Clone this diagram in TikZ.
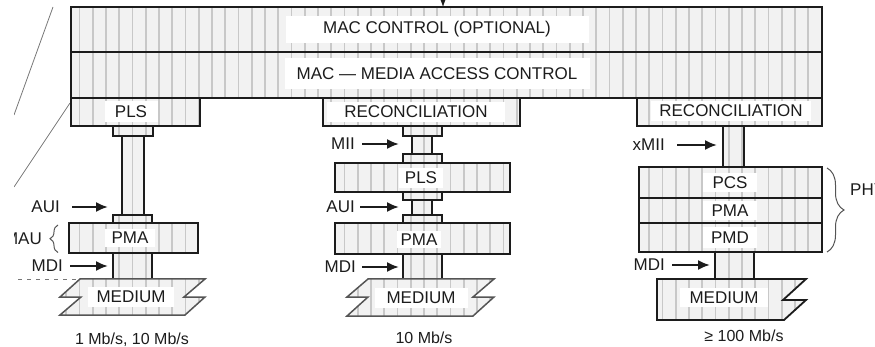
\documentclass[tikz,border=0pt]{standalone}
\usepackage{fontspec}
\setmainfont{Liberation Sans}
\usetikzlibrary{arrows.meta,patterns.meta,decorations.pathreplacing,fit}
\definecolor{boxfill}{HTML}{F2F2F2}
\definecolor{hatchc}{HTML}{C8C8C8}
\definecolor{ink}{HTML}{1C1C1C}
\definecolor{soft}{HTML}{555555}
\newcommand\labfont{\fontsize{17}{19}\selectfont}
\newcommand\speedfont{\fontsize{16}{18}\selectfont}
\begin{document}
\begin{tikzpicture}[x=1pt,y=-1pt,
  box/.style={draw=ink, line width=1.8pt, inner sep=0pt, outer sep=0pt,
    preaction={fill=boxfill},
    preaction={pattern={Lines[angle=90,distance=13.25pt,line width=1.6pt]}, pattern color=hatchc}},
  medbox/.style={draw=soft, line width=1.5pt,
    preaction={fill=boxfill},
    preaction={pattern={Lines[angle=90,distance=13.25pt,line width=1.6pt]}, pattern color=hatchc}},
  lab/.style={fill=white, inner sep=0pt, text=ink, font=\labfont},
  txt/.style={inner sep=0pt, text=ink, font=\labfont},
  speed/.style={inner sep=0pt, text=ink, font=\speedfont},
  arr/.style={draw=ink, line width=2pt, -{Latex[length=12pt,width=10pt]}},
  greyline/.style={draw=soft!80, line width=0.8pt},
  dashline/.style={draw=soft!80, line width=0.8pt, dash pattern=on 4pt off 5pt},
  bracestyle/.style={draw=soft, line width=1pt, decorate}]
\useasboundingbox (0,0) rectangle (875,347);
\clip (14,0) rectangle (875,347);

% decorative lines on the left
\coordinate (d1a) at (53,7);   \coordinate (d1b) at (14,115);
\coordinate (d2a) at (70,103); \coordinate (d2b) at (14,187);
\draw[greyline] (d1a) -- (d1b);
\draw[greyline] (d2a) -- (d2b);
\coordinate (dl) at (0,279);
\draw[dashline] (dl) -- (80,279);

% MAC layers
\node[box, fit={(70.7,7.3) (822,51.7)}] (macc) {};
\node[box, fit={(70.7,51.7) (822,97.7)}] (mac) {};

% column 1
\node[box, fit={(70.7,97.7) (200,126)}] (pls1) {};
\node[box, fit={(112.7,126) (152.7,136)}] (c1a) {};
\node[box, fit={(122,136) (144,215)}] (col1) {};
\node[box, fit={(113,215) (152,223)}] (c1b) {};
\node[box, fit={(69,223) (198,253)}] (pma1) {};
\node[box, fit={(113,253) (152,279)}] (c1c) {};
\path[medbox] (80,279) -- (205,279) -- (184,297) -- (205,297) -- (185,315)
  -- (60,315) -- (81,297) -- (60,297) -- cycle;

% column 2
\node[box, fit={(323,97.7) (520,126)}] (rec2) {};
\node[box, fit={(403,126) (442,136)}] (c2a) {};
\node[box, fit={(412,136) (432,154)}] (col2a) {};
\node[box, fit={(403,154) (442,163)}] (c2b) {};
\node[box, fit={(335,163) (510,192)}] (pls2) {};
\node[box, fit={(403,192) (442,200)}] (c2c) {};
\node[box, fit={(412,200) (432,215)}] (col2b) {};
\node[box, fit={(403,215) (442,223)}] (c2d) {};
\node[box, fit={(335,223) (510,254)}] (pma2) {};
\node[box, fit={(403,254) (442,279)}] (c2e) {};
\path[medbox] (368,279) -- (494,279) -- (473,297) -- (494,297) -- (473,316)
  -- (347,316) -- (368,297) -- (347,297) -- cycle;

% column 3
\node[box, fit={(637,97.7) (822,126)}] (rec3) {};
\node[box, fit={(723,126) (744,167)}] (col3) {};
\node[box, fit={(639,167) (822,198)}] (pcs) {};
\node[box, fit={(639,198) (822,223)}] (pma3) {};
\node[box, fit={(639,223) (822,252)}] (pmd) {};
\node[box, fit={(715,252) (754,279)}] (c3) {};
\path[box] (657,279) -- (806,279) -- (783,300) -- (806,300) -- (784,320)
  -- (657,320) -- cycle;

% box labels
\node[lab, minimum width=303, minimum height=27] (tmacc) at (437,29.5) {MAC CONTROL (OPTIONAL)};
\node[lab, minimum width=305, minimum height=31] (tmac) at (437,73.5) {MAC — MEDIA ACCESS CONTROL};
\node[lab, minimum width=53, minimum height=21] (tpls1) at (131,112) {PLS};
\node[lab, minimum width=178, minimum height=20] (trec2) at (416,112) {RECONCILIATION};
\node[lab, minimum width=160, minimum height=20] (trec3) at (731,111) {RECONCILIATION};
\node[lab, minimum width=44, minimum height=20] (tpls2) at (421,178) {PLS};
\node[lab, minimum width=50, minimum height=18] (tpma1) at (130,238) {PMA};
\node[lab, minimum width=44, minimum height=17] (tpma2) at (419,239.5) {PMA};
\node[lab, minimum width=54, minimum height=19] (tpcs) at (730,182.5) {PCS};
\node[lab, minimum width=54, minimum height=19] (tpma3) at (730,210.5) {PMA};
\node[lab, minimum width=54, minimum height=21] (tpmd) at (730,237.5) {PMD};
\node[lab, minimum width=86, minimum height=20] (tmed1) at (131,297) {MEDIUM};
\node[lab, minimum width=93, minimum height=20] (tmed2) at (421,297.5) {MEDIUM};
\node[lab, minimum width=88, minimum height=19] (tmed3) at (724,297.5) {MEDIUM};

% interface labels and arrows
\node[txt, anchor=east] (aui1) at (60,207) {AUI};
\node[txt, anchor=east] (mau) at (42,238.5) {MAU};
\node[txt, anchor=east] (mdi1) at (63,266) {MDI};
\node[txt, anchor=east] (mii) at (355,144) {MII};
\node[txt, anchor=east] (aui2) at (355,207) {AUI};
\node[txt, anchor=east] (mdi2) at (356,267) {MDI};
\node[txt, anchor=east] (xmii) at (665,145) {xMII};
\node[txt, anchor=east] (mdi3) at (665,265) {MDI};
\node[txt, anchor=west] (phy) at (850,190) {PHY};

\coordinate (aui1t) at (108,207);
\coordinate (mdi1t) at (108,266);
\coordinate (miit) at (399,144);
\coordinate (aui2t) at (399,207);
\coordinate (mdi2t) at (399,267);
\coordinate (xmiit) at (717,145);
\coordinate (mdi3t) at (710,265);
\draw[arr] ([xshift=12pt]aui1.east) -- (aui1t);
\draw[arr] ([xshift=7pt]mdi1.east) -- (mdi1t);
\draw[arr] ([xshift=7pt]mii.east) -- (miit);
\draw[arr] ([xshift=5pt]aui2.east) -- (aui2t);
\draw[arr] ([xshift=6pt]mdi2.east) -- (mdi2t);
\draw[arr] ([xshift=12pt]xmii.east) -- (xmiit);
\draw[arr] ([xshift=7pt]mdi3.east) -- (mdi3t);

\coordinate (topsrc) at (443,-12);
\draw[arr] (topsrc) -- (topsrc |- macc.north);

% braces
\draw[bracestyle, decoration={brace, amplitude=8pt}] (58,252.5) -- (58,225);
\draw[bracestyle, decoration={brace, amplitude=17pt}] (827,168) -- (827,252);

% speeds
\node[speed] (s1) at (132,340) {1 Mb/s, 10 Mb/s};
\node[speed] (s2) at (424,338) {10 Mb/s};
\node[speed] (s3) at (744,336) {≥ 100 Mb/s};
\end{tikzpicture}
\end{document}
